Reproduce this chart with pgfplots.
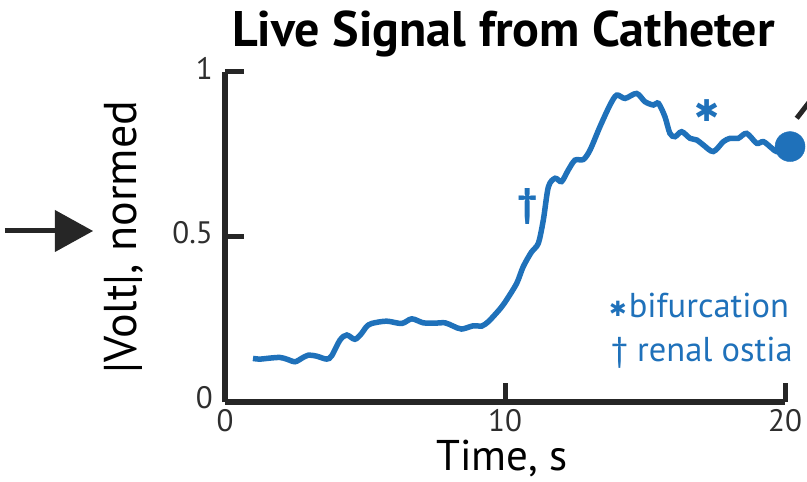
\documentclass[border=0pt]{standalone}
\usepackage{pgfplots}
\pgfplotsset{compat=1.18}
\usepackage{fontspec}
\setmainfont{PT Sans}
\newfontfamily\symfont{DejaVu Sans}
\definecolor{sigblue}{HTML}{1F71BA}
\definecolor{axgray}{HTML}{262626}
\definecolor{labgray}{HTML}{2E2E2E}

\begin{document}
\begin{tikzpicture}
\path[use as bounding box] (-225bp,-80bp) rectangle (582bp,402bp);
\begin{axis}[
  at={(0bp,0bp)}, anchor=origin,
  width=560bp, height=330bp, scale only axis,
  xmin=0, xmax=20, ymin=0, ymax=1,
  axis x line=bottom, axis y line=left,
  axis line style={-, line width=5.5bp, color=axgray},
  xtick={0,10,20}, ytick={0,0.5,1},
  yticklabels={0,0.5,1},
  tick align=inside,
  major tick length=19bp,
  tick style={line width=5bp, color=axgray},
  ticklabel style={font=\fontsize{31bp}{31bp}\selectfont, text=labgray},
  /pgf/number format/assume math mode=true,
  xticklabel style={anchor=north, inner sep=0pt, yshift=-7bp},
  yticklabel style={anchor=east, inner sep=0pt, xshift=-12bp, yshift=4bp},
  clip=false,
]
% normalised catheter voltage magnitude over time
\addplot[sigblue, line width=5.5bp, smooth, tension=0.5] coordinates {
(1.00,0.132) (1.25,0.130) (1.60,0.133) (1.96,0.135) (2.20,0.130)
(2.50,0.122) (2.75,0.133) (2.98,0.142) (3.27,0.139) (3.63,0.130)
(3.81,0.140) (4.11,0.188) (4.35,0.203) (4.64,0.190) (4.88,0.208)
(5.05,0.228) (5.24,0.238) (5.77,0.245) (6.31,0.238) (6.67,0.252)
(7.08,0.240) (7.50,0.239) (7.86,0.240) (8.15,0.230) (8.45,0.221)
(8.87,0.231) (9.17,0.230) (9.40,0.243) (9.58,0.259) (9.85,0.285)
(10.06,0.310) (10.42,0.360) (10.65,0.410) (10.95,0.455) (11.19,0.481)
(11.37,0.552) (11.55,0.652) (11.79,0.678) (12.02,0.668) (12.26,0.703)
(12.50,0.733) (12.80,0.735) (13.04,0.764) (13.39,0.834) (13.75,0.900)
(13.99,0.930) (14.29,0.920) (14.70,0.935) (15.00,0.910) (15.30,0.900)
(15.48,0.905) (15.71,0.865) (15.89,0.814) (16.07,0.804) (16.31,0.819)
(16.61,0.799) (16.85,0.794) (17.08,0.779) (17.44,0.759) (17.80,0.789)
(18.04,0.799) (18.33,0.799) (18.63,0.814) (18.99,0.784) (19.23,0.789)
(19.53,0.769) (19.70,0.759) (19.95,0.765) (20.18,0.774)
};
% current catheter position
\addplot[only marks, mark=*, mark size=15bp, sigblue] coordinates {(20.18,0.774)};
% landmarks
\node[text=sigblue, font=\bfseries\fontsize{40bp}{40bp}\selectfont] at (axis cs:10.8,0.592) {†};
\node[text=sigblue, inner sep=0pt, font=\symfont\fontsize{30bp}{30bp}\selectfont] at (axis cs:17.2,0.883) {✱};
\end{axis}

% title and axis labels
\node[anchor=base, inner sep=0pt, font=\bfseries\fontsize{50bp}{50bp}\selectfont] at (278.5bp,355bp) {Live Signal from Catheter};
\node[anchor=base, inner sep=0pt, font=\fontsize{43bp}{43bp}\selectfont] at (277bp,-68bp) {Time, s};
\node[rotate=90, anchor=base, inner sep=0pt, font=\fontsize{46bp}{46bp}\selectfont] at (-88bp,165bp) {|Volt|, normed};

% key for the landmark symbols
\node[anchor=base west, inner sep=0pt, text=sigblue, font=\fontsize{34.5bp}{34.5bp}\selectfont] at (384bp,84bp) {\raisebox{0.05em}{\symfont\fontsize{21bp}{21bp}\selectfont ✱}\kern2bp bifurcation};
\node[anchor=base west, inner sep=0pt, text=sigblue, font=\fontsize{34.5bp}{34.5bp}\selectfont] at (386bp,40bp) {† renal ostia};

% pointer arrow and outgoing guide line
\draw[axgray, line width=5bp] (-220bp,171bp) -- (-165bp,171bp);
\fill[axgray] (-170bp,192bp) -- (-132bp,171bp) -- (-170bp,150bp) -- cycle;
\draw[axgray, line width=5bp] (571.7bp,283.7bp) -- ++(20.6bp,26.6bp);
\end{tikzpicture}
\end{document}
